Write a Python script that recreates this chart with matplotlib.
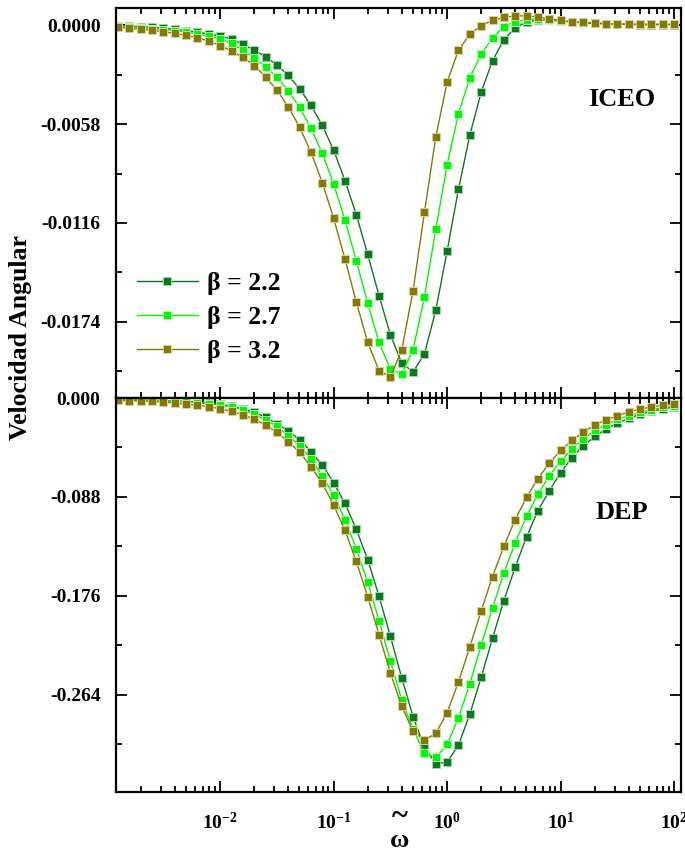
import numpy as np
import matplotlib
matplotlib.use("Agg")
import matplotlib.pyplot as plt
from matplotlib.ticker import FixedLocator, FormatStrFormatter, LogLocator, LogFormatterSciNotation, NullFormatter

plt.rcParams['font.family'] = ['Liberation Serif', 'DejaVu Serif']
plt.rcParams['font.weight'] = 'bold'
plt.rcParams['mathtext.fontset'] = 'custom'
plt.rcParams['mathtext.rm'] = 'Liberation Serif:bold'
plt.rcParams['mathtext.it'] = 'Liberation Serif:bold:italic'
plt.rcParams['mathtext.bf'] = 'Liberation Serif:bold'

# frequency grid, 10 points per decade
omega = np.logspace(-2.9, 2.0, 50)

betas = ['2.2', '2.7', '3.2']
colors = ['#0B7A1E', '#00F800', '#857A05']
edges = ['#9FD3A8', '#B8FFB8', '#D8D09A']

# ICEO angular velocity
iceo_22 = [-0.00004, -0.00006, -0.00009, -0.00013, -0.00019, -0.00025, -0.00032, -0.00041,
           -0.00053, -0.00063, -0.00082, -0.00113, -0.00147, -0.00186, -0.00233, -0.00295,
           -0.00373, -0.00471, -0.00588, -0.00733, -0.00912, -0.01112, -0.01344, -0.01586,
           -0.01815, -0.01981, -0.02033, -0.01928, -0.01672, -0.01324, -0.00962, -0.00645,
           -0.00393, -0.00209, -0.00086, -0.00016, 0.00018, 0.00032, 0.00029, 0.00023,
           0.00018, 0.00013, 0.00010, 0.00007, 0.00005, 0.00004, 0.00003, 0.00003,
           0.00003, 0.00003]
iceo_27 = [-0.00006, -0.00009, -0.00015, -0.00020, -0.00026, -0.00032, -0.00041, -0.00053,
           -0.00066, -0.00081, -0.00107, -0.00147, -0.00193, -0.00244, -0.00306, -0.00385,
           -0.00482, -0.00604, -0.00752, -0.00932, -0.01143, -0.01381, -0.01631, -0.01859,
           -0.02018, -0.02045, -0.01903, -0.01594, -0.01197, -0.00819, -0.00520, -0.00309,
           -0.00170, -0.00074, -0.00010, 0.00021, 0.00032, 0.00038, 0.00032, 0.00025,
           0.00019, 0.00015, 0.00012, 0.00008, 0.00006, 0.00004, 0.00004, 0.00004,
           0.00004, 0.00004]
iceo_32 = [-0.00010, -0.00019, -0.00025, -0.00031, -0.00039, -0.00049, -0.00060, -0.00074,
           -0.00094, -0.00120, -0.00152, -0.00189, -0.00237, -0.00303, -0.00381, -0.00479,
           -0.00598, -0.00745, -0.00923, -0.01133, -0.01371, -0.01625, -0.01859, -0.02026,
           -0.02061, -0.01905, -0.01556, -0.01098, -0.00656, -0.00334, -0.00147, -0.00053,
           -0.00003, 0.00028, 0.00046, 0.00054, 0.00054, 0.00048, 0.00037, 0.00028,
           0.00019, 0.00016, 0.00013, 0.00009, 0.00006, 0.00006, 0.00004, 0.00004,
           0.00004, 0.00004]

# DEP angular velocity
dep_22 = [-0.0014, -0.0016, -0.0018, -0.0020, -0.0022, -0.0026, -0.0030, -0.0037,
          -0.0045, -0.0054, -0.0074, -0.0096, -0.0128, -0.0170, -0.0230, -0.0292,
          -0.0373, -0.0476, -0.0596, -0.0753, -0.0938, -0.1168, -0.1438, -0.1763,
          -0.2120, -0.2490, -0.2835, -0.3109, -0.3252, -0.3240, -0.3088, -0.2814,
          -0.2486, -0.2138, -0.1802, -0.1504, -0.1236, -0.1003, -0.0825, -0.0664,
          -0.0530, -0.0426, -0.0342, -0.0277, -0.0223, -0.0181, -0.0146, -0.0119,
          -0.0098, -0.0080]
dep_27 = [-0.0016, -0.0018, -0.0020, -0.0022, -0.0025, -0.0029, -0.0035, -0.0042,
          -0.0051, -0.0063, -0.0080, -0.0105, -0.0143, -0.0194, -0.0253, -0.0337,
          -0.0423, -0.0545, -0.0691, -0.0864, -0.1081, -0.1340, -0.1638, -0.1981,
          -0.2341, -0.2686, -0.2948, -0.3156, -0.3198, -0.3082, -0.2847, -0.2542,
          -0.2200, -0.1869, -0.1557, -0.1289, -0.1052, -0.0858, -0.0694, -0.0563,
          -0.0453, -0.0366, -0.0289, -0.0239, -0.0188, -0.0158, -0.0128, -0.0105,
          -0.0083, -0.0069]
dep_32 = [-0.0021, -0.0024, -0.0027, -0.0031, -0.0036, -0.0045, -0.0055, -0.0065,
          -0.0076, -0.0096, -0.0119, -0.0149, -0.0188, -0.0241, -0.0306, -0.0387,
          -0.0482, -0.0610, -0.0759, -0.0953, -0.1177, -0.1454, -0.1766, -0.2106,
          -0.2445, -0.2743, -0.2966, -0.3044, -0.2984, -0.2799, -0.2527, -0.2214,
          -0.1894, -0.1588, -0.1320, -0.1081, -0.0884, -0.0717, -0.0581, -0.0467,
          -0.0378, -0.0304, -0.0241, -0.0194, -0.0158, -0.0125, -0.0098, -0.0080,
          -0.0063, -0.0051]

iceo_ticks = [0.0, -0.0058, -0.0116, -0.0174]
dep_ticks = [0.0, -0.088, -0.176, -0.264]

fig = plt.figure(figsize=(6.85, 8.55), dpi=100)
ax1 = fig.add_axes([0.169, 0.5345, 0.825, 0.4561])
ax2 = fig.add_axes([0.169, 0.0737, 0.825, 0.4608])


def style(ax, ticks, fmt, ylim):
    ax.set_xscale('log')
    ax.set_xlim(10 ** -2.92, 10 ** 2.06)
    ax.set_ylim(*ylim)
    step = ticks[0] - ticks[1]
    ax.yaxis.set_major_locator(FixedLocator(ticks))
    ax.yaxis.set_minor_locator(FixedLocator([t - step / 2 for t in ticks]))
    ax.yaxis.set_major_formatter(FormatStrFormatter(fmt))
    ax.xaxis.set_major_locator(LogLocator(base=10, numticks=20))
    ax.xaxis.set_minor_locator(LogLocator(base=10, subs=np.arange(2, 10), numticks=20))
    ax.xaxis.set_minor_formatter(NullFormatter())
    ax.tick_params(which='both', direction='in', top=True, right=True, width=1.3,
                   labelsize=14)
    ax.tick_params(axis='y', pad=11)
    ax.tick_params(which='major', length=8)
    ax.tick_params(which='minor', length=4.5)
    for s in ax.spines.values():
        s.set_linewidth(1.6)


series_top = [iceo_22, iceo_27, iceo_32]
series_bot = [dep_22, dep_27, dep_32]
for b, c, e, yt, yb in zip(betas, colors, edges, series_top, series_bot):
    kw = dict(color=c, lw=1.0, marker='s', ms=6.2, mfc=c, mec=e, mew=0.7)
    ax1.plot(omega, yt, label='β = ' + b, **kw)
    ax2.plot(omega, yb, **kw)

style(ax1, iceo_ticks, '%.4f', (-0.02186, 0.001))
style(ax2, dep_ticks, '%.3f', (-0.3505, 0.0))
ax1.xaxis.set_major_formatter(NullFormatter())
ax2.xaxis.set_major_formatter(LogFormatterSciNotation())
ax2.tick_params(axis='x', pad=14, labelsize=14)

ax1.text(0.895, 0.765, 'ICEO', transform=ax1.transAxes, fontsize=19,
         ha='center', va='center')
ax2.text(0.895, 0.71, 'DEP', transform=ax2.transAxes, fontsize=19,
         ha='center', va='center')

leg = ax1.legend(loc='upper left', bbox_to_anchor=(0.006, 0.37), frameon=False,
                 fontsize=18.5, handlelength=2.35, handletextpad=0.35,
                 labelspacing=0.44, borderaxespad=0.3)

fig.text(0.03, 0.605, 'Velocidad Angular', rotation=90, fontsize=18.5,
         ha='center', va='center')
fig.text(0.583, 0.045, '~', fontsize=22, ha='center', va='center')
fig.text(0.583, 0.017, 'ω', fontsize=19, ha='center', va='center')

fig.savefig('out.png', dpi=100)
